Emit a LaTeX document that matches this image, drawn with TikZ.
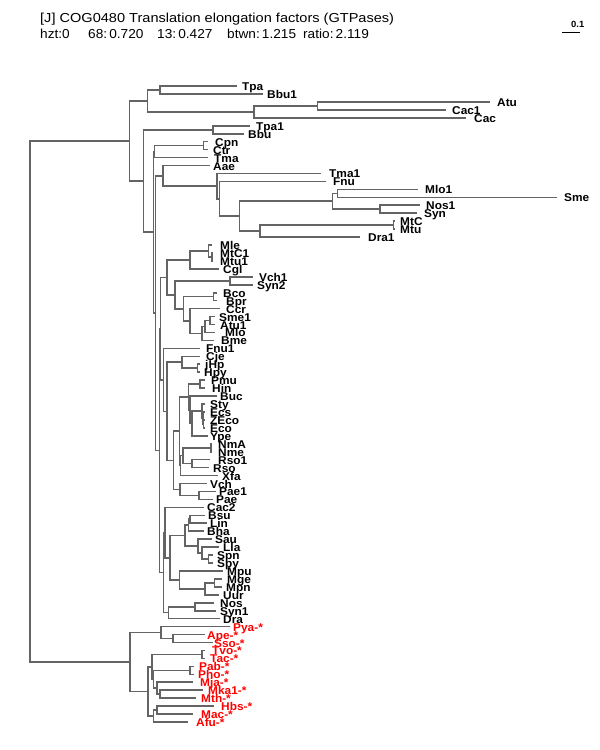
\documentclass[tikz,border=0pt]{standalone}
\usepackage{fontspec}
\setmainfont{Liberation Sans}
\newfontfamily\labfont{Liberation Sans}[FakeStretch=1.05]
\newfontfamily\titfont{Liberation Sans}[FakeStretch=1.12]
\newfontfamily\subfont{Liberation Sans}[FakeStretch=1.05]
\definecolor{edgec}{RGB}{100,100,100}
\definecolor{archc}{RGB}{255,0,0}
\begin{document}
\begin{tikzpicture}[x=1pt,y=-1pt,
  tit/.style={font=\titfont\fontsize{13}{13}\selectfont, inner sep=0pt, anchor=base west},
  sub/.style={font=\subfont\fontsize{13}{13}\selectfont, inner sep=0pt, anchor=base west},
  lab/.style={font=\labfont\bfseries\fontsize{11.3}{11.3}\selectfont, inner sep=0pt, anchor=base west, yshift=-4.5pt},
  archlab/.style={lab, text=archc},
  edge/.style={draw=edgec, line width=1.6pt}]
\useasboundingbox (0,0) rectangle (600,750);
% header
\node[tit] (title) at (40,22) {[J] COG0480 Translation elongation factors (GTPases)};
\node[sub] (h1) at (40,38.5) {hzt:0};
\node[sub] (h2) at (88,38.5) {68:\,0.720};
\node[sub] (h3) at (157,38.5) {13:\,0.427};
\node[sub] (h4) at (227,38.5) {btwn:\,1.215};
\node[sub] (h5) at (303,38.5) {ratio:\,2.119};
\coordinate (sbA) at (562,32.5);
\coordinate (sbB) at (580,32.5);
\draw[line width=1pt] (sbA) -- (sbB);
\node[font=\labfont\bfseries\fontsize{9}{9}\selectfont, inner sep=0pt, anchor=base west] (sbl) at (571,27) {0.1};
% tree
\begin{scope}[x=1pt,y=-7.95pt,yshift=-78.05pt]
\foreach \n/\t/\e/\lx/\i in {
 Tpa/Tpa/237/242/1, Bbu1/Bbu1/263/267/2, Atu/Atu/490/497/3, Cac1/Cac1/446/452/4, Cac/Cac/466/474/5,
 Tpa1/Tpa1/250/256/6, Bbu/Bbu/244/248/7, Cpn/Cpn/208.3/215/8, Ctr/Ctr/208.3/213/9, Tma/Tma/208.3/214/10,
 Aae/Aae/210/213/11, Tma1/Tma1/321/329/12, Fnu/Fnu/326/333/13, Mlo1/Mlo1/418/425/14, Sme/Sme/556.7/564/15,
 Nos1/Nos1/420/426/16, Syn/Syn/416.7/424/17, MtC/MtC/395/400/18, Mtu/Mtu/395/400/19, Dra1/Dra1/360/368/20,
 Mle/Mle/212/220/21, MtC1/MtC1/213/220/22, Mtu1/Mtu1/213/220/23, Cgl/Cgl/219/223/24, Vch1/Vch1/253/259/25,
 Syn2/Syn2/253/257/26, Bco/Bco/216.7/223/27, Bpr/Bpr/216.7/226/28, Ccr/Ccr/220/226/29, Sme1/Sme1/215/219/30,
 Atu1/Atu1/215/220/31, Mlo/Mlo/215/225/32, Bme/Bme/214/221/33, Fnu1/Fnu1/200/206/34, Cje/Cje/200/206/35,
 jHp/jHp/200/205/36, Hpy/Hpy/200/204/37, Pmu/Pmu/205/211/38, Hin/Hin/205/212/39, Buc/Buc/217/220/40,
 Sty/Sty/205/210/41, Ecs/Ecs/205/210/42, ZEco/ZEco/205/210/43, Eco/Eco/205/210/44, Ype/Ype/208/210/45,
 NmA/NmA/212/218/46, Nme/Nme/212/218/47, Rso1/Rso1/210/218/48, Rso/Rso/209/213/49, Xfa/Xfa/218/222/50,
 Vch/Vch/207/210/51, Pae1/Pae1/216/219/52, Pae/Pae/213/216/53, Cac2/Cac2/204/207/54, Bsu/Bsu/205/208/55,
 Lin/Lin/207/210/56, Bha/Bha/204/207/57, Sau/Sau/212/215/58, Lla/Lla/219/223/59, Spn/Spn/213/217/60,
 Spy/Spy/213/217/61, Mpu/Mpu/223/227/62, Mge/Mge/222/227/63, Mpn/Mpn/222/226/64, Uur/Uur/219/223/65,
 Nos/Nos/214/220/66, Syn1/Syn1/216/220/67, Dra/Dra/220/223/68}
{
  \coordinate (l\n) at (\e,\i);
  \node[lab] (t\n) at (\lx,\i) {\t};
}
\foreach \n/\t/\e/\lx/\i in {
 Pya/Pya-*/230/233/69, Ape/Ape-*/205/207/70, Sso/Sso-*/213/214/71, Tvo/Tvo-*/205/212/72, Tac/Tac-*/205/210/73,
 Pab/Pab-*/194/199/74, Pho/Pho-*/194/198/75, Mja/Mja-*/193/200/76, Mka1/Mka1-*/203/208/77, Mth/Mth-*/196/201/78,
 Hbs/Hbs-*/214/221/79, Mac/Mac-*/193/201/80, Afu/Afu-*/188/196/81}
{
  \coordinate (l\n) at (\e,\i);
  \node[archlab] (t\n) at (\lx,\i) {\t};
}
\foreach \n/\x/\i in {
 Root/30/40.68, N1/129.3/7.91, G1/147.5/2.875, TB/159.7/1.5, AC/254/4.25, AA1/317.5/3.5,
 X/143.3/12.95, TB2/213/6.5, Y/153.3/19.4, CT/154.3/9.25, CC/203.3/8.5, Z/155.5/29.58,
 AA/162.7/12.3, A1/216.7/13.59, A2/219.3/15.19, A3/239.3/17.375, B/332.3/15.5, B1/337.3/14.5,
 B2/380/16.5, C/260/19.25, MM/393.3/18.5, Z2/159.3/46.86, Q1/160.5/31.5, N/166.7/25.07,
 M/190/22.875, M1/208.3/21.75, M1b/211.7/22.5, P/175/27.27, V/230/25.5, PB/183.3/29.03,
 BB/213.3/27.5, S4/190/30.56, S3/201.7/32.125, S2/205/31.25, S1/210/30.5, K2/163.3/37.96,
 K1/166.7/41.92, CH/181.7/35.75, HH/197.3/36.5, GP/173.3/48.09, F1/179.3/44.43, ENT/188.3/40.11,
 PH/200/38.5, BEY/190/41.72, EY/191.7/43.44, E4/201.7/41.875, E3/202.7/42.75, E2/203.3/43.5,
 F2/180.3/48.75, NR/182.7/47.5, NN/210.7/46.5, RR/191.7/48.5, VP/180/51.75, PP/199/52.5,
 FN/163.3/62.21, FIRM/165/57.17, G/170/60.34, BL/185/57.56, BLB/188.3/56.25, BL1/190/55.5,
 SLSS/198/58.875, LSS/201.7/59.75, SS/208.3/60.5, MU/179.3/63.125, MU2/205/64.25, MM2/214.3/63.5,
 NSD/168.3/67.25, NS/195/66.5, AR/130/73.45, PAS/160.7/69.75, AS/172.7/70.5, LA/147.7/77.16,
 TT/151.7/74.06, TvTa/201.7/72.5, PM/153.3/75.625, PP2/190/74.5, MMM/156.7/76.75, MK/160/77.5,
 H/153.3/80.25, H1/156.7/79.5}
{
  \coordinate (n\n) at (\x,\i);
}
\foreach \p/\c in {
 nRoot/nN1, nRoot/nAR, nN1/nG1, nN1/nX, nG1/nTB, nG1/nAC, nTB/lTpa, nTB/lBbu1,
 nAC/nAA1, nAC/lCac, nAA1/lAtu, nAA1/lCac1, nX/nTB2, nX/nY, nTB2/lTpa1, nTB2/lBbu,
 nY/nCT, nY/nZ, nCT/nCC, nCT/lTma, nCC/lCpn, nCC/lCtr, nZ/nAA, nZ/nZ2,
 nAA/lAae, nAA/nA1, nA1/lTma1, nA1/nA2, nA2/lFnu, nA2/nA3, nA3/nB, nA3/nC,
 nB/nB1, nB/nB2, nB1/lMlo1, nB1/lSme, nB2/lNos1, nB2/lSyn, nC/nMM, nC/lDra1,
 nMM/lMtC, nMM/lMtu, nZ2/nQ1, nZ2/nFN, nQ1/nN, nQ1/nK2, nN/nM, nN/nP,
 nM/nM1, nM/lCgl, nM1/lMle, nM1/nM1b, nM1b/lMtC1, nM1b/lMtu1, nP/nV, nP/nPB,
 nV/lVch1, nV/lSyn2, nPB/nBB, nPB/nS4, nBB/lBco, nBB/lBpr, nS4/lCcr, nS4/nS3,
 nS3/nS2, nS3/lBme, nS2/nS1, nS2/lMlo, nS1/lSme1, nS1/lAtu1,
 nK2/lFnu1, nK2/nK1, nK1/nCH, nK1/nGP, nCH/lCje, nCH/nHH, nHH/ljHp, nHH/lHpy,
 nGP/nF1, nGP/nVP, nF1/nENT, nF1/nF2, nENT/nPH, nENT/nBEY, nPH/lPmu, nPH/lHin,
 nBEY/lBuc, nBEY/nEY, nEY/nE4, nEY/lYpe, nE4/lSty, nE4/nE3, nE3/lEcs, nE3/nE2,
 nE2/lZEco, nE2/lEco, nF2/nNR, nF2/lXfa, nNR/nNN, nNR/nRR, nNN/lNmA, nNN/lNme,
 nRR/lRso1, nRR/lRso, nVP/lVch, nVP/nPP, nPP/lPae1, nPP/lPae,
 nFN/nFIRM, nFN/nNSD, nFIRM/lCac2, nFIRM/nG, nG/nBL, nG/nMU, nBL/nBLB, nBL/nSLSS,
 nBLB/nBL1, nBLB/lBha, nBL1/lBsu, nBL1/lLin, nSLSS/lSau, nSLSS/nLSS, nLSS/lLla, nLSS/nSS,
 nSS/lSpn, nSS/lSpy, nMU/lMpu, nMU/nMU2, nMU2/nMM2, nMU2/lUur, nMM2/lMge, nMM2/lMpn,
 nNSD/nNS, nNSD/lDra, nNS/lNos, nNS/lSyn1,
 nAR/nPAS, nAR/nLA, nPAS/lPya, nPAS/nAS, nAS/lApe, nAS/lSso, nLA/nTT, nLA/nH,
 nTT/nTvTa, nTT/nPM, nTvTa/lTvo, nTvTa/lTac, nPM/nPP2, nPM/nMMM, nPP2/lPab, nPP2/lPho,
 nMMM/lMja, nMMM/nMK, nMK/lMka1, nMK/lMth, nH/nH1, nH/lAfu, nH1/lHbs, nH1/lMac}
{
  \draw[edge] (\p) |- (\c);
}
\end{scope}
\end{tikzpicture}
\end{document}
